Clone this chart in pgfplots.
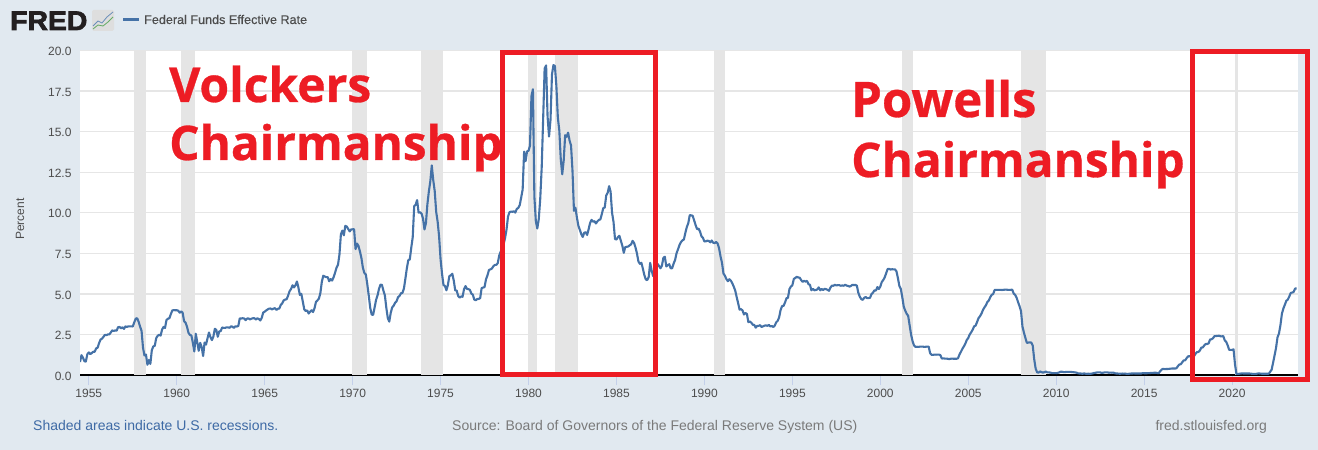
\documentclass[border=0pt]{standalone}
\usepackage{fontspec}
\usepackage{pgfplots}
\pgfplotsset{compat=1.18}
\setmainfont{Liberation Sans}
\newfontfamily\annot{Open Sans Bold}[FakeBold=0.6]
\newfontfamily\logofont{Liberation Sans Bold}[FakeBold=2.5]
\newfontfamily\legfont{Liberation Sans}[FakeBold=0.25]
\definecolor{pagebg}{HTML}{E1E9F0}
\definecolor{fredline}{HTML}{4572A7}
\definecolor{gridc}{HTML}{E6E6E6}
\definecolor{bandc}{HTML}{E5E5E5}
\definecolor{tickc}{HTML}{C4D0EA}
\definecolor{txt}{HTML}{4D4D4D}
\definecolor{srctxt}{HTML}{7A7A7A}
\definecolor{shadetxt}{HTML}{3E6AA5}
\definecolor{redbox}{HTML}{ED1C24}
\definecolor{logoc}{HTML}{231F20}
\begin{document}
\begin{tikzpicture}[x=1pt,y=1pt]
\fill[pagebg] (0,0) rectangle (1318,450);
\begin{axis}[
  at={(80pt,75pt)},anchor=south west,
  scale only axis,width=1218pt,height=324.5pt,
  xmin=1954.5,xmax=2023.75,ymin=0,ymax=20,
  axis background/.style={fill=white},
  font=\fontsize{12}{14}\selectfont,
  axis x line=bottom,axis y line=left,
  x axis line style={black,line width=2.2pt,-},
  y axis line style={draw=none},
  xtick={1955,1960,...,2020},
  ytick={0,2.5,...,20},
  ymajorgrids,
  grid style={gridc,line width=1.3pt},
  x tick style={tickc,line width=0.8pt},
  y tick style={draw=none},
  tick align=outside,
  major tick length=10pt,
  xticklabel style={txt,/pgf/number format/1000 sep={},/pgf/number format/assume math mode=true,yshift=-0.5pt},
  yticklabel style={txt,/pgf/number format/fixed,/pgf/number format/fixed zerofill,/pgf/number format/precision=1,/pgf/number format/assume math mode=true,anchor=east,xshift=5pt,yshift=-1pt},
  ylabel={Percent},
  y label style={at={(axis description cs:-0.0493,0.48)},anchor=center,txt},
  clip=true,
]
\addplot[fill=bandc,draw=none,forget plot] coordinates {(1957.57,0)(1957.57,20)(1958.23,20)(1958.23,0)};
\addplot[fill=bandc,draw=none,forget plot] coordinates {(1960.23,0)(1960.23,20)(1961.04,20)(1961.04,0)};
\addplot[fill=bandc,draw=none,forget plot] coordinates {(1969.96,0)(1969.96,20)(1970.83,20)(1970.83,0)};
\addplot[fill=bandc,draw=none,forget plot] coordinates {(1973.86,0)(1973.86,20)(1975.14,20)(1975.14,0)};
\addplot[fill=bandc,draw=none,forget plot] coordinates {(1979.99,0)(1979.99,20)(1980.48,20)(1980.48,0)};
\addplot[fill=bandc,draw=none,forget plot] coordinates {(1981.51,0)(1981.51,20)(1982.82,20)(1982.82,0)};
\addplot[fill=bandc,draw=none,forget plot] coordinates {(1990.55,0)(1990.55,20)(1991.19,20)(1991.19,0)};
\addplot[fill=bandc,draw=none,forget plot] coordinates {(2001.22,0)(2001.22,20)(2001.88,20)(2001.88,0)};
\addplot[fill=bandc,draw=none,forget plot] coordinates {(2007.98,0)(2007.98,20)(2009.42,20)(2009.42,0)};
\addplot[fill=bandc,draw=none,forget plot] coordinates {(2020.17,0)(2020.17,20)(2020.34,20)(2020.34,0)};
\addplot[fredline,line width=2.1pt,line join=round,no marks] table[header=false,row sep=\\,x expr={1954.5+\coordindex/12},y index=0]{
0.80\\1.22\\1.07\\0.85\\0.83\\1.28\\
1.39\\1.29\\1.35\\1.43\\1.43\\1.64\\1.68\\1.96\\2.18\\2.24\\2.35\\2.48\\
2.45\\2.50\\2.50\\2.62\\2.75\\2.71\\2.75\\2.73\\2.95\\2.96\\2.88\\2.94\\
2.84\\3.00\\2.96\\3.00\\3.00\\3.00\\2.99\\3.24\\3.47\\3.50\\3.28\\2.98\\
2.72\\1.67\\1.20\\1.26\\0.63\\0.93\\0.68\\1.53\\1.76\\1.80\\2.27\\2.42\\
2.48\\2.43\\2.80\\2.96\\2.90\\3.39\\3.47\\3.50\\3.76\\3.98\\4.00\\3.99\\
3.99\\3.97\\3.84\\3.92\\3.85\\3.32\\3.23\\2.98\\2.60\\2.47\\2.44\\1.98\\
1.45\\2.54\\2.02\\1.49\\1.98\\1.73\\1.17\\2.00\\1.88\\2.26\\2.62\\2.33\\
2.15\\2.37\\2.85\\2.78\\2.36\\2.68\\2.71\\2.93\\2.90\\2.90\\2.94\\2.93\\
2.91\\3.00\\2.98\\2.90\\3.00\\2.99\\3.02\\3.49\\3.48\\3.50\\3.48\\3.38\\
3.48\\3.48\\3.43\\3.47\\3.50\\3.50\\3.42\\3.50\\3.45\\3.36\\3.52\\3.85\\
3.90\\3.98\\4.04\\4.09\\4.10\\4.04\\4.09\\4.12\\4.01\\4.08\\4.10\\4.32\\
4.42\\4.60\\4.65\\4.67\\4.90\\5.17\\5.30\\5.53\\5.40\\5.53\\5.76\\5.40\\
4.94\\5.00\\4.53\\4.05\\3.94\\3.98\\3.79\\3.90\\3.99\\3.88\\4.12\\4.51\\
4.60\\4.71\\5.05\\5.76\\6.12\\6.07\\6.03\\6.03\\5.78\\5.91\\5.82\\6.02\\
6.30\\6.61\\6.79\\7.41\\8.67\\8.90\\8.61\\9.19\\9.15\\9.00\\8.85\\8.97\\
8.98\\8.98\\7.76\\8.10\\7.95\\7.61\\7.21\\6.61\\6.29\\6.20\\5.60\\4.90\\
4.14\\3.72\\3.71\\4.16\\4.63\\4.91\\5.31\\5.57\\5.55\\5.20\\4.91\\4.14\\
3.50\\3.29\\3.83\\4.17\\4.27\\4.46\\4.55\\4.80\\4.87\\5.04\\5.06\\5.33\\
5.94\\6.58\\7.09\\7.12\\7.84\\8.49\\10.40\\10.50\\10.78\\10.01\\10.03\\9.95\\
9.65\\8.97\\9.35\\10.51\\11.31\\11.93\\12.92\\12.01\\11.34\\10.06\\9.45\\8.53\\
7.13\\6.24\\5.54\\5.49\\5.22\\5.55\\6.10\\6.14\\6.24\\5.82\\5.22\\5.20\\
4.87\\4.77\\4.84\\4.82\\5.29\\5.48\\5.31\\5.29\\5.25\\5.02\\4.95\\4.65\\
4.61\\4.68\\4.69\\4.73\\5.35\\5.39\\5.42\\5.90\\6.14\\6.47\\6.51\\6.56\\
6.70\\6.78\\6.79\\6.89\\7.36\\7.60\\7.81\\8.04\\8.45\\8.96\\9.76\\10.03\\
10.07\\10.06\\10.09\\10.01\\10.24\\10.29\\10.47\\10.94\\11.43\\13.77\\13.18\\13.78\\
13.82\\14.13\\17.19\\17.61\\10.98\\9.47\\9.03\\9.61\\10.87\\12.81\\15.85\\18.90\\
19.08\\15.93\\14.70\\15.72\\18.52\\19.10\\19.04\\17.82\\15.87\\15.08\\13.31\\12.37\\
13.22\\14.78\\14.68\\14.94\\14.45\\14.15\\12.59\\10.12\\10.31\\9.71\\9.20\\8.95\\
8.68\\8.51\\8.77\\8.80\\8.63\\8.98\\9.37\\9.56\\9.45\\9.48\\9.34\\9.47\\
9.56\\9.59\\9.91\\10.29\\10.32\\11.06\\11.23\\11.64\\11.30\\9.99\\9.43\\8.38\\
8.35\\8.50\\8.58\\8.27\\7.97\\7.53\\7.88\\7.90\\7.92\\7.99\\8.05\\8.27\\
8.14\\7.86\\7.48\\6.99\\6.85\\6.92\\6.56\\6.17\\5.89\\5.85\\6.04\\6.91\\
6.43\\6.10\\6.13\\6.37\\6.85\\6.73\\6.58\\6.73\\7.22\\7.29\\6.69\\6.77\\
6.83\\6.58\\6.58\\6.87\\7.09\\7.51\\7.75\\8.01\\8.19\\8.30\\8.35\\8.76\\
9.12\\9.36\\9.85\\9.84\\9.81\\9.53\\9.24\\8.99\\9.02\\8.84\\8.55\\8.45\\
8.23\\8.24\\8.28\\8.26\\8.18\\8.29\\8.15\\8.13\\8.20\\8.11\\7.81\\7.31\\
6.91\\6.25\\6.12\\5.91\\5.78\\5.90\\5.82\\5.66\\5.45\\5.21\\4.81\\4.43\\
4.03\\4.06\\3.98\\3.73\\3.82\\3.76\\3.25\\3.30\\3.22\\3.10\\3.09\\2.92\\
3.02\\3.03\\3.07\\2.96\\3.00\\3.04\\3.06\\3.03\\3.09\\2.99\\3.02\\2.96\\
3.05\\3.25\\3.34\\3.56\\4.01\\4.25\\4.26\\4.47\\4.73\\4.76\\5.29\\5.45\\
5.53\\5.92\\5.98\\6.05\\6.01\\6.00\\5.85\\5.74\\5.80\\5.76\\5.80\\5.60\\
5.56\\5.22\\5.31\\5.22\\5.24\\5.27\\5.40\\5.22\\5.30\\5.24\\5.31\\5.29\\
5.25\\5.19\\5.39\\5.51\\5.50\\5.56\\5.52\\5.54\\5.54\\5.50\\5.52\\5.50\\
5.56\\5.51\\5.49\\5.45\\5.49\\5.56\\5.54\\5.55\\5.51\\5.07\\4.83\\4.68\\
4.63\\4.76\\4.81\\4.74\\4.74\\4.76\\4.99\\5.07\\5.22\\5.20\\5.42\\5.30\\
5.45\\5.73\\5.85\\6.02\\6.27\\6.53\\6.54\\6.50\\6.52\\6.51\\6.51\\6.40\\
5.98\\5.49\\5.31\\4.80\\4.21\\3.97\\3.77\\3.65\\3.07\\2.49\\2.09\\1.82\\
1.73\\1.74\\1.73\\1.75\\1.75\\1.75\\1.73\\1.74\\1.75\\1.75\\1.34\\1.24\\
1.24\\1.26\\1.25\\1.26\\1.26\\1.22\\1.01\\1.03\\1.01\\1.01\\1.00\\0.98\\
1.00\\1.01\\1.00\\1.00\\1.00\\1.03\\1.26\\1.43\\1.61\\1.76\\1.93\\2.16\\
2.28\\2.50\\2.63\\2.79\\3.00\\3.04\\3.26\\3.50\\3.62\\3.78\\4.00\\4.16\\
4.29\\4.49\\4.59\\4.79\\4.94\\4.99\\5.24\\5.25\\5.25\\5.25\\5.25\\5.24\\
5.25\\5.26\\5.26\\5.25\\5.25\\5.25\\5.26\\5.02\\4.94\\4.76\\4.49\\4.24\\
3.94\\2.98\\2.61\\2.28\\1.98\\2.00\\2.01\\2.00\\1.81\\0.97\\0.39\\0.16\\
0.15\\0.22\\0.18\\0.15\\0.18\\0.21\\0.16\\0.16\\0.15\\0.12\\0.12\\0.12\\
0.11\\0.13\\0.16\\0.20\\0.20\\0.18\\0.18\\0.19\\0.19\\0.19\\0.19\\0.18\\
0.17\\0.16\\0.14\\0.10\\0.09\\0.09\\0.07\\0.10\\0.08\\0.07\\0.08\\0.07\\
0.08\\0.10\\0.13\\0.14\\0.16\\0.16\\0.16\\0.13\\0.14\\0.16\\0.16\\0.16\\
0.14\\0.15\\0.14\\0.15\\0.11\\0.09\\0.09\\0.08\\0.08\\0.09\\0.08\\0.09\\
0.07\\0.07\\0.08\\0.09\\0.09\\0.10\\0.09\\0.09\\0.09\\0.09\\0.09\\0.12\\
0.11\\0.11\\0.11\\0.12\\0.12\\0.13\\0.13\\0.14\\0.14\\0.12\\0.12\\0.24\\
0.34\\0.38\\0.36\\0.37\\0.37\\0.38\\0.39\\0.40\\0.40\\0.40\\0.41\\0.54\\
0.65\\0.66\\0.79\\0.90\\0.91\\1.04\\1.15\\1.16\\1.15\\1.15\\1.16\\1.30\\
1.41\\1.42\\1.51\\1.69\\1.70\\1.82\\1.91\\1.91\\1.95\\2.19\\2.20\\2.27\\
2.40\\2.40\\2.41\\2.42\\2.39\\2.38\\2.40\\2.13\\2.04\\1.83\\1.55\\1.55\\
1.55\\1.58\\0.65\\0.05\\0.05\\0.08\\0.09\\0.10\\0.09\\0.09\\0.09\\0.09\\
0.09\\0.08\\0.07\\0.07\\0.06\\0.08\\0.10\\0.09\\0.08\\0.08\\0.08\\0.08\\
0.08\\0.08\\0.20\\0.33\\0.77\\1.21\\1.68\\2.33\\2.56\\3.08\\3.78\\4.10\\
4.33\\4.57\\4.65\\4.83\\5.06\\5.08\\5.12\\5.33\\5.33\\
};
\end{axis}
% logo
\node[anchor=base west,inner sep=0pt,text=logoc] at (10,420) {\scalebox{1.05}[1]{\logofont\fontsize{27}{30}\selectfont FRED}};
\fill[rounded corners=1.5pt,fill=black!13] (92,419) rectangle (114,440);
\draw[fredline!80,line width=0.8pt] (93,424) -- (98,429) -- (102,427) -- (107,433) -- (113,438);
\draw[green!45!black!60,line width=0.8pt] (93,421) -- (98,425) -- (103,424) -- (108,428) -- (113,433);
% legend
\draw[fredline,line width=2.2pt] (123,430.5) -- (139,430.5);
\node[anchor=base west,inner sep=0pt,text=txt] at (144,426) {\legfont\fontsize{12.6}{14}\selectfont Federal Funds Effective Rate};
% footer
\node[anchor=base west,inner sep=0pt,text=shadetxt] at (33,19.5) {\fontsize{14}{16}\selectfont Shaded areas indicate U.S. recessions.};
\node[anchor=base west,inner sep=0pt,text=srctxt] at (452,19.5) {\fontsize{14}{16}\selectfont Source: Board of Governors of the Federal Reserve System (US)};
\node[anchor=base east,inner sep=0pt,text=srctxt] at (1267,19.5) {\fontsize{14}{16}\selectfont fred.stlouisfed.org};
% annotations
\draw[redbox,line width=5pt] (502.5,397.5) rectangle (655.5,75.5);
\draw[redbox,line width=5pt] (1192.5,398.5) rectangle (1307.5,70.5);
\node[anchor=base west,inner sep=0pt,text=redbox] at (169,348) {\annot\fontsize{48}{50}\selectfont Volckers};
\node[anchor=base west,inner sep=0pt,text=redbox] at (169,290) {\annot\fontsize{47.7}{50}\selectfont Chairmanship};
\node[anchor=base west,inner sep=0pt,text=redbox] at (851,333) {\annot\fontsize{49}{50}\selectfont Powells};
\node[anchor=base west,inner sep=0pt,text=redbox] at (851,273) {\annot\fontsize{47.7}{50}\selectfont Chairmanship};
\end{tikzpicture}
\end{document}
